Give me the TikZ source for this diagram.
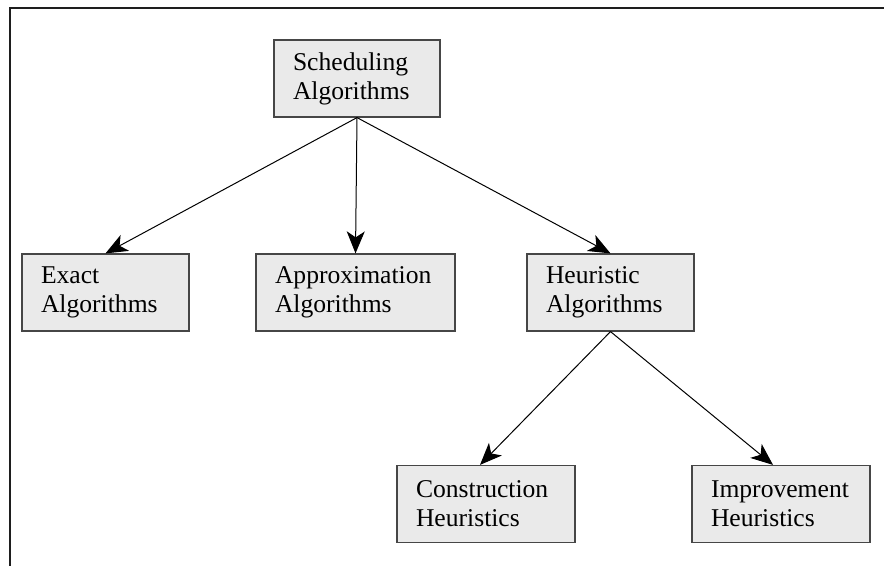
\documentclass[tikz,border=0pt]{standalone}
\usepackage{fontspec}
\setmainfont{Liberation Serif}
\usepackage{tikz}
\usetikzlibrary{arrows.meta}
\definecolor{boxfill}{RGB}{234,234,234}
\definecolor{boxedge}{RGB}{70,70,70}
\definecolor{framedark}{RGB}{30,30,30}
\tikzset{
  block/.style={rectangle, draw=boxedge, fill=boxfill,
    text width=#1, align=left, inner xsep=9.5pt, inner ysep=2pt,
    minimum height=38.5pt, line width=0.6pt,
    font=\fontsize{12.8}{14.5}\selectfont},
  arrow/.style={-{Stealth[length=11pt, width=9pt, inset=3pt]},
    line width=0.5pt, color=black},
  frameline/.style={line width=1pt, color=framedark}
}

\begin{document}
\begin{tikzpicture}[x=0.5pt, y=-0.5pt]
  % page area and the two visible frame edges
  \useasboundingbox (0,0) rectangle (884,566);
  \draw[frameline] (10,566) -- (10,8) -- (884,8);

  % root
  \node[block=64pt] (sched) at (357,78.5) {Scheduling\\Algorithms};

  % first level
  \node[block=64.5pt] (exact) at (105.5,292.5) {Exact\\Algorithms};
  \node[block=80.5pt] (approx) at (355.5,292.5) {Approximation\\Algorithms};
  \node[block=64.5pt] (heur) at (610.5,292.5) {Heuristic\\Algorithms};

  % second level under the heuristics
  \node[block=70pt] (constr) at (486,504) {Construction\\Heuristics};
  \node[block=70pt] (improv) at (781,504) {Improvement\\Heuristics};

  \draw[arrow] (sched.south) -- (exact.north);
  \draw[arrow] (sched.south) -- (approx.north);
  \draw[arrow] (sched.south) -- (heur.north);
  \draw[arrow] (heur.south) -- ([xshift=-3pt]constr.north);
  \draw[arrow] (heur.south) -- ([xshift=-4pt]improv.north);
\end{tikzpicture}
\end{document}
